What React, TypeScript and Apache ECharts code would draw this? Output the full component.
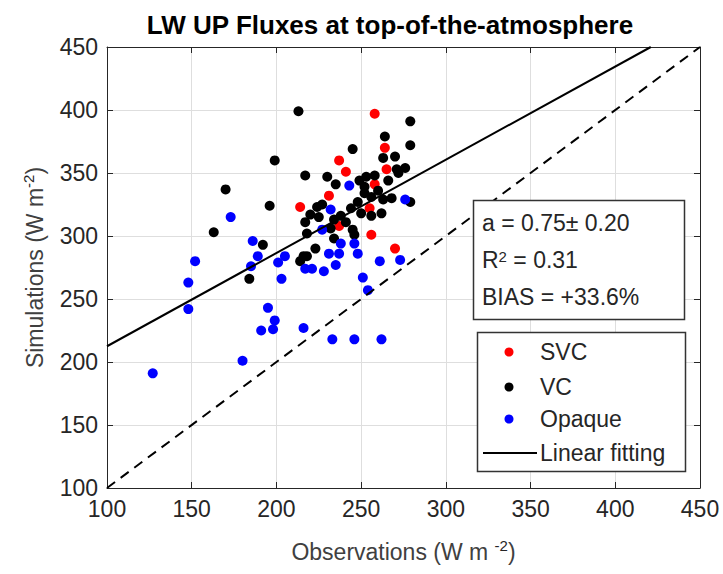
import React, { useEffect, useRef } from "react";
import * as echarts from "echarts";

// Observations (x) vs simulations (y), W m-2
const svcPoints: number[][] = [
  [214, 323], [258, 397], [264, 370], [237, 360], [241, 351], [265, 353],
  [258, 341], [231, 332], [237, 308], [256, 301], [255, 322], [270, 290],
];
const vcPoints: number[][] = [
  [213, 399], [199, 360], [170, 337], [196, 324], [163, 303], [192, 293],
  [184, 266], [214, 280], [218, 284], [223, 290], [216, 284], [217, 348],
  [230, 347], [235, 341], [249, 344], [253, 347], [258, 348], [252, 339],
  [245, 369], [264, 379], [263, 362], [270, 363], [271, 353], [279, 391],
  [279, 372], [276, 354], [272, 350], [279, 327], [256, 331], [263, 329],
  [268, 330], [224, 323], [227, 325], [225, 315], [220, 317], [217, 311],
  [218, 302], [234, 313], [238, 316], [232, 306], [234, 298], [245, 305],
  [246, 301], [256, 316], [262, 318], [248, 327], [252, 334], [260, 336],
  [244, 322], [266, 344], [241, 311], [250, 318],
];
const opaquePoints: number[][] = [
  [173, 315], [186, 296], [189, 284], [185, 276], [201, 279], [205, 284],
  [203, 266], [152, 280], [148, 263], [148, 242], [195, 243], [199, 233],
  [191, 225], [198, 226], [180, 201], [127, 191], [216, 227], [233, 218],
  [246, 218], [262, 218], [217, 274], [221, 274], [228, 272], [231, 286],
  [235, 277], [237, 286], [238, 294], [246, 294], [248, 286], [251, 267],
  [254, 257], [261, 280], [273, 281], [276, 329], [243, 340], [232, 321],
  [227, 305],
];

const axisMin = 100;
const axisMax = 450;
const axisStep = 50;

const fitSlope = 0.74;
const fitIntercept = 138.5;

const legendNames = ["SVC", "VC", "Opaque", "Linear fitting"];
const statsLines = ["a = 0.75\u00b1 0.20", "R{sup|2} = 0.31", "BIAS = +33.6%"];

const FONT = "'Liberation Sans', Arial, Helvetica, sans-serif";
const AX = "#262626";

export default function App() {
  const ref = useRef<HTMLDivElement>(null);
  useEffect(() => {
    if (!ref.current) return;
    const chart = echarts.init(ref.current, null, { renderer: "svg" });
    const fitEndX = Math.min(axisMax, (axisMax - fitIntercept) / fitSlope);
    const fitData = [
      [axisMin, fitSlope * axisMin + fitIntercept],
      [fitEndX, fitSlope * fitEndX + fitIntercept],
    ];
    const oneToOne = [
      [axisMin, axisMin],
      [axisMax, axisMax],
    ];
    const sup = { fontSize: 15, lineHeight: 14, verticalAlign: "top", fontFamily: FONT, color: AX };
    const baseAxis = {
      type: "value",
      min: axisMin,
      max: axisMax,
      interval: axisStep,
      axisLine: { show: true, lineStyle: { color: AX, width: 1 } },
      axisTick: { show: true, inside: true, length: 6, lineStyle: { color: AX } },
    };
    const legendY = [352, 387, 419, 453];
    const legendColors = ["#ff0000", "#000000", "#0000ff"];
    const graphic: any[] = [
      {
        type: "rect",
        shape: { x: 473.5, y: 200.5, width: 211, height: 119 },
        style: { fill: "#fff", stroke: "#333", lineWidth: 1.5 },
        z: 100,
      },
      ...statsLines.map((t, i) => ({
        type: "text",
        x: 482,
        y: [223, 260, 297][i],
        z: 101,
        style: {
          text: t,
          fill: AX,
          fontSize: 23,
          fontFamily: FONT,
          verticalAlign: "middle",
          align: "left",
          rich: { sup: { ...sup, lineHeight: 12 } },
        },
      })),
      {
        type: "rect",
        shape: { x: 477.5, y: 332.5, width: 208, height: 139 },
        style: { fill: "#fff", stroke: "#333", lineWidth: 1.5 },
        z: 100,
      },
      ...legendColors.map((c, i) => ({
        type: "circle",
        shape: { cx: 509, cy: legendY[i], r: 4.5 },
        style: { fill: c },
        z: 101,
      })),
      {
        type: "line",
        shape: { x1: 483, y1: legendY[3], x2: 537, y2: legendY[3] },
        style: { stroke: "#000", lineWidth: 2 },
        z: 101,
      },
      ...legendNames.map((t, i) => ({
        type: "text",
        x: 540,
        y: legendY[i],
        z: 101,
        style: {
          text: t,
          fill: AX,
          fontSize: 23,
          fontFamily: FONT,
          verticalAlign: "middle",
          align: "left",
        },
      })),
    ];
    chart.setOption({
      animation: false,
      backgroundColor: "#ffffff",
      title: {
        text: "LW UP Fluxes at top-of-the-atmosphere",
        left: 390,
        textAlign: "center",
        top: 12,
        padding: 0,
        textStyle: { fontSize: 26, fontWeight: "bold", color: "#000", fontFamily: FONT },
      },
      grid: { left: 107, right: 23, top: 47, bottom: 86, containLabel: false },
      xAxis: [
        {
          ...baseAxis,
          position: "bottom",
          axisLabel: { show: true, fontSize: 23, color: AX, margin: 9, fontFamily: FONT },
          splitLine: { show: true, lineStyle: { color: "#dedede", width: 1 } },
          name: "Observations (W m {sup|-2})",
          nameLocation: "middle",
          nameGap: 50,
          nameTextStyle: {
            fontSize: 23,
            color: "#404040",
            fontFamily: FONT,
            lineHeight: 28,
            rich: { sup },
          },
        },
        {
          ...baseAxis,
          position: "top",
          axisLabel: { show: false },
          splitLine: { show: false },
        },
      ],
      yAxis: [
        {
          ...baseAxis,
          position: "left",
          axisLabel: { show: true, fontSize: 23, color: AX, margin: 9, fontFamily: FONT },
          splitLine: { show: true, lineStyle: { color: "#dedede", width: 1 } },
          name: "Simulations (W m{sup|-2})",
          nameLocation: "middle",
          nameGap: 58,
          nameRotate: 90,
          nameTextStyle: {
            fontSize: 23,
            color: "#404040",
            fontFamily: FONT,
            lineHeight: 28,
            rich: { sup },
          },
        },
        {
          ...baseAxis,
          position: "right",
          axisLabel: { show: false },
          splitLine: { show: false },
        },
      ],
      series: [
        {
          name: legendNames[0],
          type: "scatter",
          data: svcPoints,
          symbol: "circle",
          symbolSize: 10,
          itemStyle: { color: "#ff0000", opacity: 1 },
        },
        {
          name: legendNames[1],
          type: "scatter",
          data: vcPoints,
          symbol: "circle",
          symbolSize: 10,
          itemStyle: { color: "#000000", opacity: 1 },
        },
        {
          name: legendNames[2],
          type: "scatter",
          data: opaquePoints,
          symbol: "circle",
          symbolSize: 10,
          itemStyle: { color: "#0000ff", opacity: 1 },
        },
        {
          name: legendNames[3],
          type: "line",
          data: fitData,
          symbol: "none",
          showSymbol: false,
          lineStyle: { color: "#000", width: 2 },
          z: 5,
        },
        {
          name: "1:1",
          type: "line",
          data: oneToOne,
          symbol: "none",
          showSymbol: false,
          lineStyle: { color: "#000", width: 2, type: [10, 7] },
          z: 5,
        },
      ],
      graphic,
    });
    return () => chart.dispose();
  }, []);
  return (
    <div
      ref={ref}
      style={{ position: "absolute", left: 0, top: 0, width: 723, height: 574 }}
    />
  );
}
